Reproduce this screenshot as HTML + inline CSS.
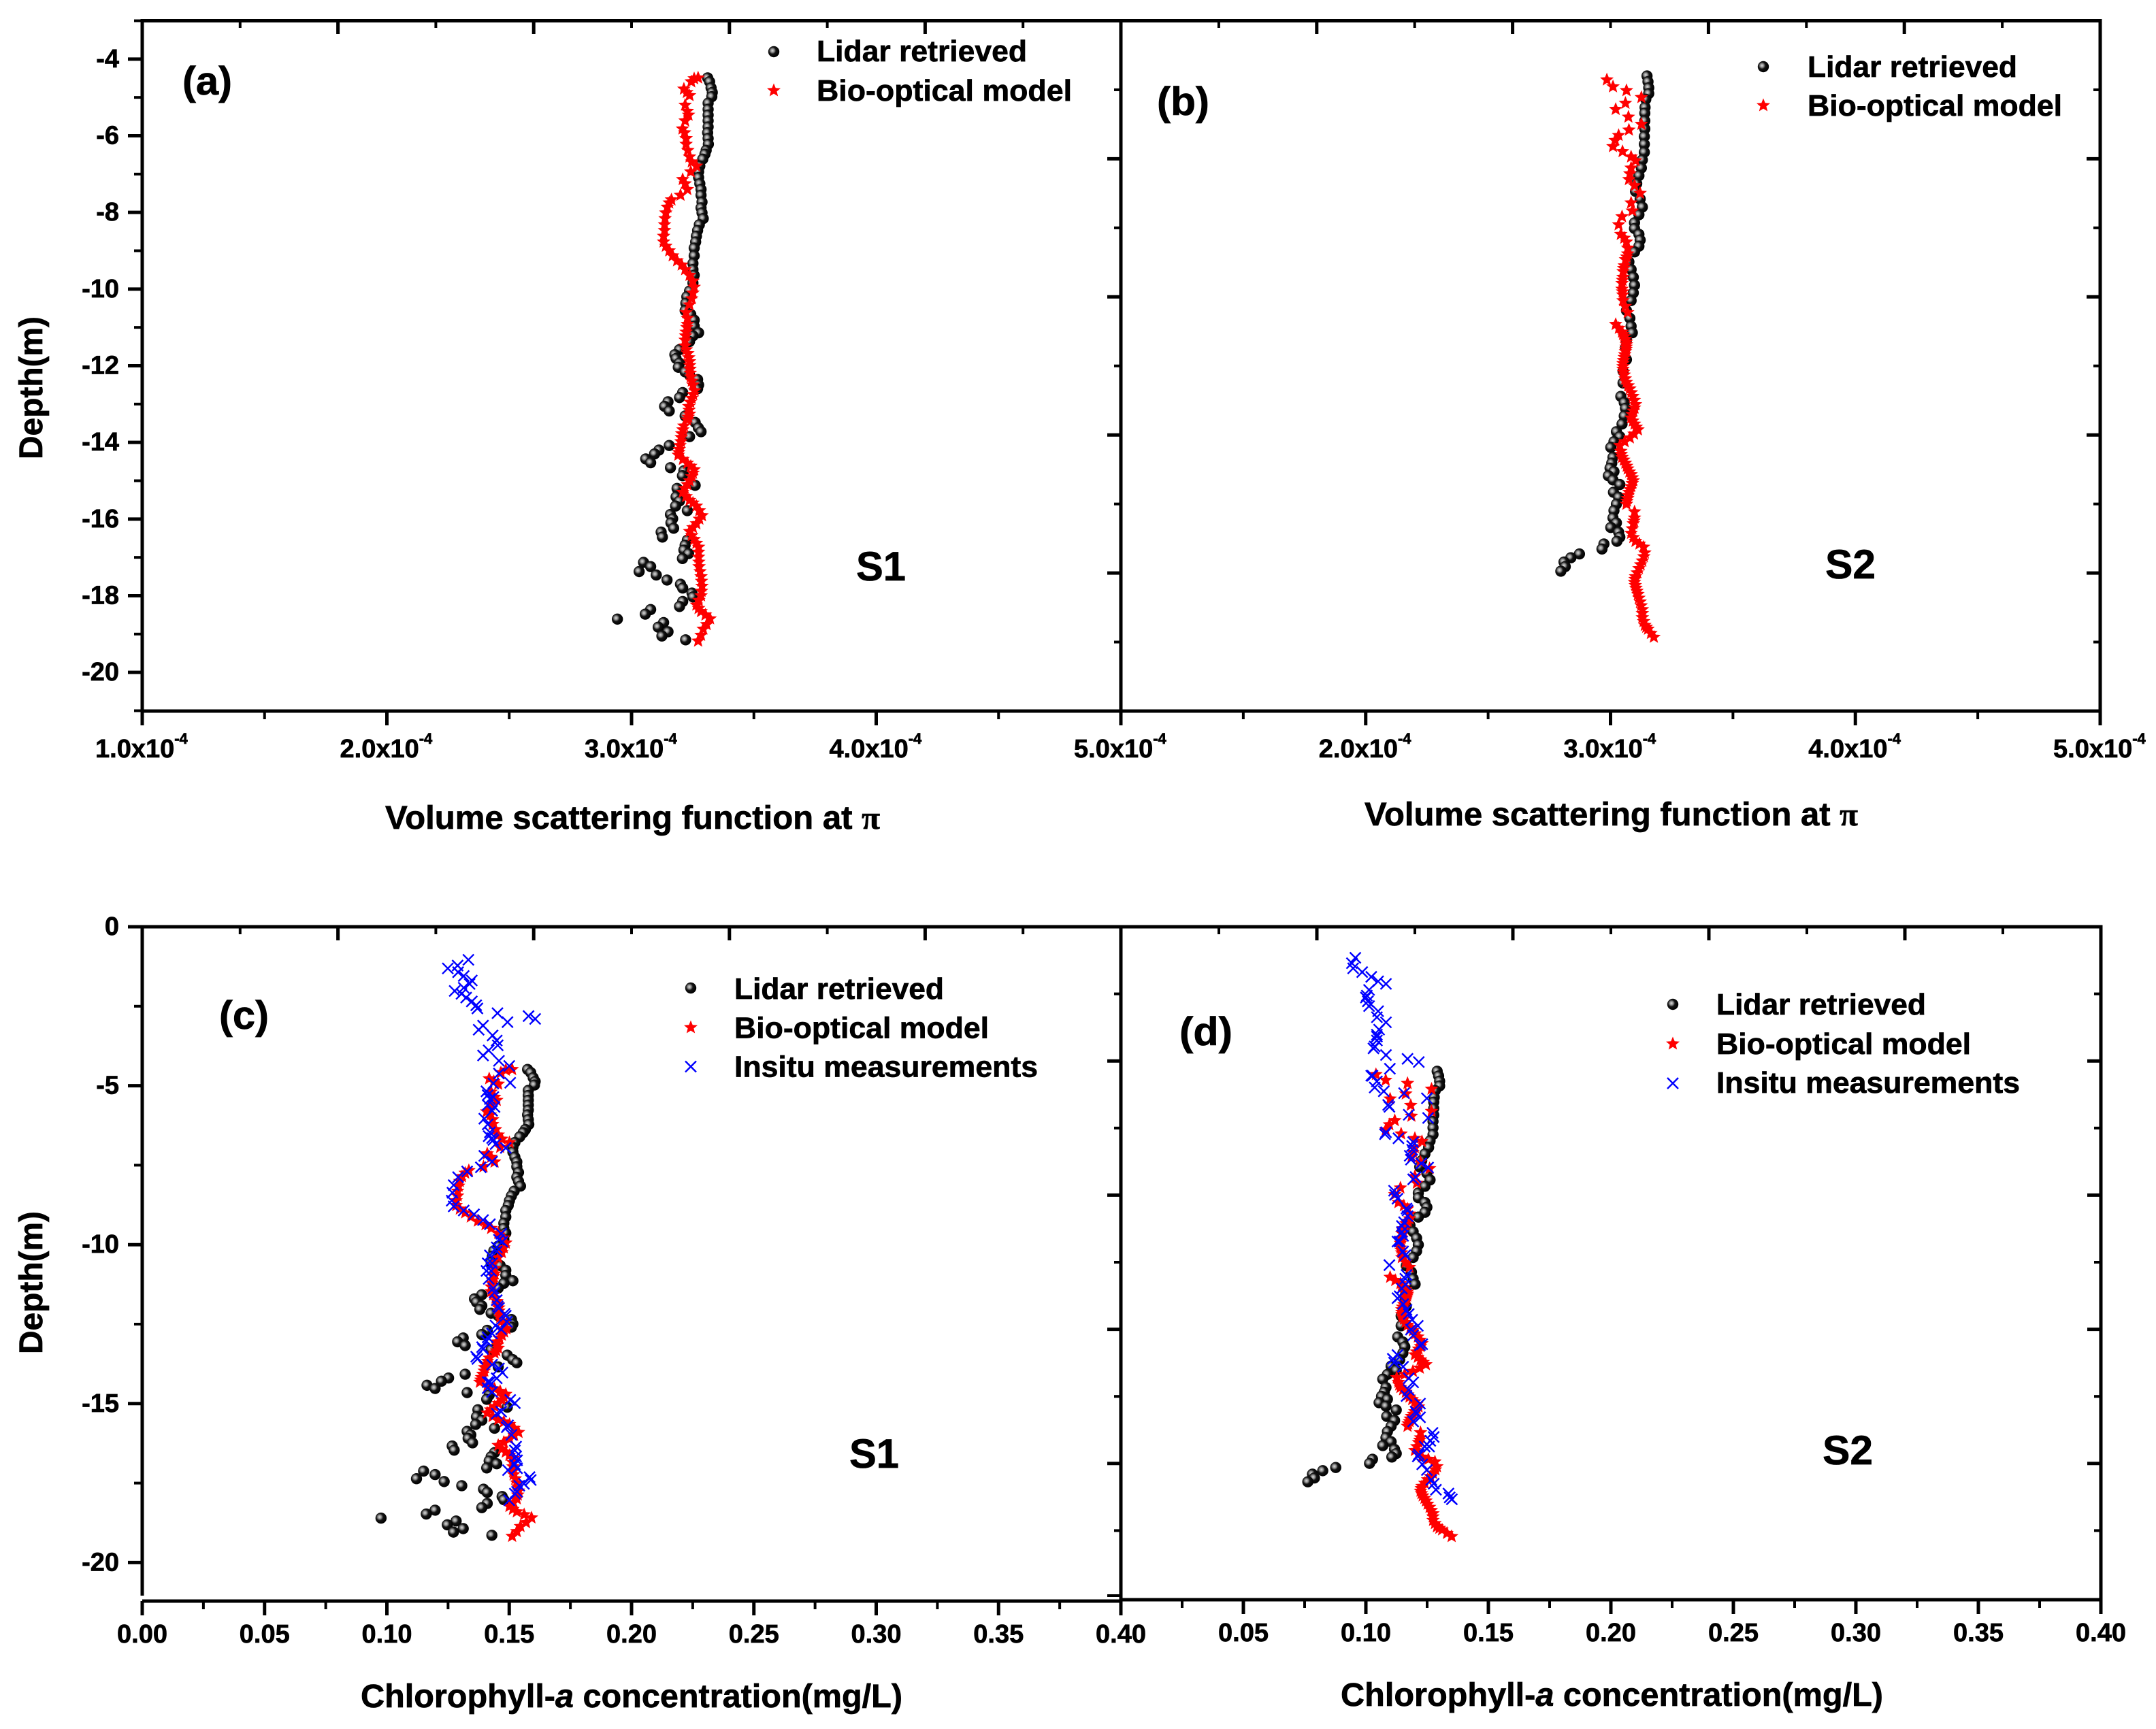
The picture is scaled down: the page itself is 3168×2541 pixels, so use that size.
<!DOCTYPE html>
<html lang="en">
<head>
<meta charset="utf-8">
<title>Lidar and bio-optical depth profiles</title>
<style>
html,body{margin:0;padding:0;background:#fff;}
svg{display:block;}
text{font-family:"Liberation Sans",Arial,sans-serif;font-weight:bold;fill:#000;stroke:#000;stroke-width:0.7px;}
</style>
</head>
<body>
<svg id="figure" xmlns="http://www.w3.org/2000/svg" width="3168" height="2541" viewBox="0 0 3168 2541">
<defs>
<radialGradient id="sphere" cx="0.38" cy="0.4" r="0.6">
<stop offset="0" stop-color="#dcdcdc"/>
<stop offset="0.28" stop-color="#8c8c8c"/>
<stop offset="0.52" stop-color="#141414"/>
<stop offset="1" stop-color="#000"/>
</radialGradient>
</defs>
<rect x="0" y="0" width="3168" height="2541" fill="#fff"/>
</svg>
<script>
/* ---------- tick values and labels ---------- */
const betaMajorTicks = [1, 2, 3, 4, 5];
const betaMinorTicks = [1.5, 2.5, 3.5, 4.5];
const betaTopTicksMajor = [1.8, 2.6, 3.4, 4.2];
const betaTopTicksMinor = [1.4, 2.2, 3.0, 3.8, 4.6];
const betaLabelsA = ['1.0x10', '2.0x10', '3.0x10', '4.0x10', '5.0x10'];
const depthTicksA = [-4, -6, -8, -10, -12, -14, -16, -18, -20];
const depthMinorA = [-3, -5, -7, -9, -11, -13, -15, -17, -19, -21];
const secondaryMajor = [-4, -8, -12, -16];
const secondaryMinor = [-2, -6, -10, -14, -18];
const chlMajorTicks = [0, 0.05, 0.1, 0.15, 0.2, 0.25, 0.3, 0.35, 0.4];
const chlMinorTicks = [0.025, 0.075, 0.125, 0.175, 0.225, 0.275, 0.325, 0.375];
const chlLabels = ['0.00', '0.05', '0.10', '0.15', '0.20', '0.25', '0.30', '0.35', '0.40'];
const chlTopMajor = [0.08, 0.16, 0.24, 0.32];
const chlTopMinor = [0.04, 0.12, 0.2, 0.28, 0.36];
const depthTicksC = [0, -5, -10, -15, -20];
const depthMinorC = [-2.5, -7.5, -12.5, -17.5];

/* ---------- S1 depths (m below surface) ---------- */
const lidarDepthS1 = [4.49,4.59,4.75,4.87,4.98,5.15,5.31,5.46,5.61,5.77,5.92,6.07,6.22,6.38,6.48,6.61,6.79,6.94,7.09,7.25,7.40,7.55,7.73,7.88,8.01,8.16,8.32,8.47,8.62,8.77,8.93,9.13,9.33,9.49,9.64,9.84,10.05,10.20,10.37,10.56,10.66,10.81,10.97,11.14,11.22,11.37,11.58,11.71,11.81,11.93,12.04,12.16,12.24,12.36,12.50,12.60,12.70,12.83,12.94,13.06,13.18,13.31,13.48,13.62,13.72,13.85,14.08,14.20,14.30,14.43,14.53,14.66,14.74,14.87,15.12,15.20,15.42,15.53,15.66,15.78,15.88,15.99,16.10,16.24,16.34,16.47,16.55,16.68,16.81,16.90,17.03,17.13,17.24,17.37,17.46,17.59,17.70,17.80,17.93,18.03,18.15,18.28,18.36,18.48,18.61,18.70,18.82,18.94,19.05,19.15];
const bioDepthS1 = [4.49,4.51,4.59,4.78,4.87,4.95,5.20,5.36,5.46,5.61,5.82,5.92,6.07,6.22,6.38,6.55,6.68,6.79,6.94,7.14,7.25,7.40,7.55,7.67,7.75,7.86,8.01,8.16,8.32,8.47,8.62,8.77,8.88,9.00,9.13,9.26,9.37,9.49,9.64,9.79,9.95,10.10,10.25,10.41,10.61,10.76,10.92,11.12,11.33,11.48,11.68,11.89,12.09,12.29,12.50,12.65,12.85,13.06,13.26,13.41,13.57,13.77,13.98,14.18,14.33,14.54,14.71,14.89,15.10,15.30,15.51,15.66,15.91,16.12,16.32,16.53,16.73,16.99,17.24,17.50,17.75,18.00,18.24,18.41,18.60,18.75,18.87,19.03,19.18,11.00,11.22,11.58,11.79,11.99,12.19,12.40,12.75,12.95,13.16,13.34,13.67,13.87,14.08,14.26,14.44,14.62,14.80,15.00,15.20,15.41,15.58,15.78,16.00,16.22,16.43,16.63,16.86,17.12,17.37,17.62,17.88,18.12,18.33,18.50];

/* ---------- panel (a): volume scattering, units of 1e-4 ---------- */
const lidarBetaS1 = [3.311,3.319,3.325,3.330,3.328,3.313,3.313,3.313,3.313,3.313,3.311,3.313,3.314,3.305,3.300,3.291,3.279,3.274,3.274,3.279,3.284,3.284,3.288,3.284,3.288,3.293,3.277,3.270,3.265,3.262,3.256,3.256,3.251,3.251,3.256,3.251,3.237,3.226,3.222,3.219,3.242,3.256,3.256,3.274,3.251,3.237,3.196,3.177,3.182,3.196,3.191,3.219,3.237,3.270,3.274,3.270,3.209,3.196,3.149,3.135,3.154,3.219,3.260,3.273,3.284,3.237,3.154,3.112,3.094,3.058,3.078,3.159,3.214,3.208,3.260,3.186,3.182,3.196,3.180,3.228,3.159,3.168,3.161,3.172,3.121,3.126,3.228,3.219,3.214,3.233,3.208,3.049,3.078,3.031,3.101,3.145,3.200,3.209,3.247,3.251,3.209,3.196,3.078,3.056,2.942,3.131,3.109,3.149,3.124,3.221];
const bioBetaS1 = [3.272,3.256,3.244,3.214,3.226,3.237,3.219,3.228,3.233,3.219,3.208,3.217,3.223,3.223,3.230,3.237,3.246,3.265,3.242,3.209,3.219,3.228,3.200,3.163,3.154,3.146,3.140,3.137,3.135,3.135,3.131,3.131,3.140,3.154,3.168,3.186,3.205,3.219,3.237,3.251,3.256,3.251,3.246,3.237,3.223,3.228,3.228,3.223,3.219,3.219,3.230,3.237,3.239,3.242,3.251,3.258,3.246,3.234,3.237,3.228,3.214,3.205,3.202,3.195,3.191,3.228,3.256,3.246,3.228,3.209,3.237,3.265,3.288,3.265,3.237,3.256,3.274,3.274,3.276,3.284,3.288,3.284,3.265,3.284,3.321,3.307,3.293,3.284,3.272,3.226,3.221,3.224,3.234,3.238,3.240,3.246,3.252,3.240,3.235,3.232,3.210,3.203,3.198,3.193,3.210,3.242,3.251,3.237,3.218,3.223,3.251,3.277,3.277,3.251,3.246,3.265,3.274,3.275,3.280,3.286,3.286,3.275,3.274,3.302];

/* ---------- panel (c): chlorophyll-a, mg/L ---------- */
const lidarChlS1 = [.1575,.1588,.1598,.1606,.1603,.1578,.1578,.1578,.1578,.1578,.1575,.1578,.1580,.1566,.1557,.1543,.1523,.1515,.1515,.1523,.1531,.1531,.1538,.1531,.1538,.1546,.1520,.1509,.1501,.1496,.1486,.1486,.1478,.1478,.1486,.1478,.1455,.1437,.1431,.1426,.1463,.1486,.1486,.1515,.1478,.1455,.1388,.1358,.1366,.1388,.1380,.1426,.1455,.1509,.1515,.1509,.1410,.1388,.1312,.1289,.1320,.1426,.1492,.1514,.1531,.1455,.1320,.1252,.1223,.1164,.1197,.1328,.1418,.1408,.1492,.1372,.1366,.1388,.1363,.1440,.1328,.1343,.1332,.1350,.1267,.1275,.1440,.1426,.1418,.1449,.1408,.1150,.1197,.1121,.1234,.1306,.1395,.1410,.1471,.1478,.1410,.1388,.1197,.1161,.0976,.1283,.1247,.1312,.1272,.1429];
const bioChlS1 = [.1512,.1486,.1466,.1418,.1437,.1455,.1426,.1440,.1449,.1426,.1408,.1423,.1432,.1432,.1444,.1455,.1470,.1501,.1463,.1410,.1426,.1440,.1395,.1335,.1320,.1307,.1298,.1293,.1289,.1289,.1283,.1283,.1298,.1320,.1343,.1372,.1403,.1426,.1455,.1478,.1486,.1478,.1470,.1455,.1432,.1440,.1440,.1432,.1426,.1426,.1444,.1455,.1458,.1463,.1478,.1489,.1470,.1450,.1455,.1440,.1418,.1403,.1398,.1387,.1380,.1440,.1486,.1470,.1440,.1410,.1455,.1501,.1538,.1501,.1455,.1486,.1515,.1515,.1518,.1531,.1538,.1531,.1501,.1531,.1591,.1569,.1546,.1531,.1512,.1437,.1429,.1434,.1450,.1457,.1460,.1470,.1479,.1460,.1452,.1447,.1411,.1400,.1392,.1384,.1411,.1463,.1478,.1455,.1424,.1432,.1478,.1520,.1520,.1478,.1470,.1501,.1515,.1517,.1525,.1535,.1535,.1517,.1515,.1561];
const insituDepthS1 = [1.04,1.22,1.31,1.43,1.55,1.69,1.80,1.92,2.02,2.11,2.23,2.35,2.47,2.57,2.72,2.81,2.90,3.00,3.11,3.24,3.42,3.58,3.73,3.89,4.05,4.22,4.38,4.62,4.91,4.93,5.18,5.36,5.61,5.79,6.04,6.22,6.47,6.65,6.84,6.96,7.21,7.39,7.57,7.70,7.88,8.13,8.37,8.62,8.80,8.93,9.05,9.23,9.36,9.66,9.91,10.09,10.34,10.59,10.83,11.08,11.38,11.75,12.00,12.24,12.55,12.80,13.04,13.29,13.60,13.78,14.03,14.21,14.33,14.52,14.99,15.32,15.69,15.99,16.36,16.67,16.92,17.10,17.32,17.59,17.84,18.05,5.30,5.42,5.67,6.59,6.71,9.85,10.22,10.59,10.83,11.51,11.94,12.18,12.43,12.67,12.92,13.23,13.53,13.90,14.33,14.64,14.89,15.26,15.75,16.48,16.79,17.04,17.41,17.53,17.78];
const insituChlS1 = [.1333,.1289,.1249,.1291,.1314,.1347,.1338,.1314,.1277,.1305,.1324,.1347,.1365,.1370,.1452,.1579,.1606,.1493,.1393,.1375,.1432,.1449,.1453,.1416,.1393,.1458,.1500,.1458,.1504,.1435,.1407,.1435,.1412,.1430,.1398,.1412,.1421,.1430,.1444,.1486,.1398,.1430,.1384,.1328,.1291,.1273,.1268,.1265,.1273,.1314,.1356,.1393,.1421,.1467,.1472,.1449,.1421,.1430,.1426,.1416,.1435,.1449,.1458,.1486,.1444,.1430,.1407,.1393,.1370,.1430,.1472,.1449,.1421,.1412,.1523,.1449,.1495,.1509,.1528,.1528,.1523,.1495,.1583,.1541,.1523,.1500,.1412,.1421,.1440,.1416,.1435,.1458,.1449,.1412,.1407,.1440,.1453,.1481,.1490,.1467,.1412,.1389,.1365,.1458,.1412,.1430,.1504,.1467,.1490,.1523,.1532,.1532,.1588,.1560,.1532];

/* ---------- S2 depths ---------- */
const lidarDepthS2 = [4.44,4.59,4.75,4.90,5.05,5.26,5.41,5.61,5.82,6.02,6.22,6.43,6.63,6.84,7.04,7.25,7.45,7.65,7.86,8.06,8.27,8.42,8.57,8.72,8.88,9.03,9.29,9.49,9.69,9.90,10.10,10.30,10.56,10.76,10.97,11.14,11.33,11.53,11.84,12.14,12.45,12.80,12.96,13.11,13.31,13.52,13.72,13.85,13.98,14.13,14.39,14.54,14.67,14.76,14.87,14.98,15.10,15.30,15.43,15.61,15.78,15.97,16.10,16.22,16.34,16.47,16.58,16.65,16.78,16.91,17.01,17.12,17.24,17.36];
const bioDepthS2 = [4.54,4.72,4.82,5.00,5.15,5.31,5.51,5.70,5.85,5.99,6.12,6.28,6.41,6.55,6.65,6.84,6.99,7.14,7.30,7.50,7.75,7.96,8.11,8.32,8.57,8.67,8.77,8.93,9.08,9.23,9.39,9.54,9.69,9.85,10.00,10.15,10.30,10.61,10.92,11.12,11.24,11.38,11.51,11.63,11.78,11.94,12.09,12.24,12.43,12.60,12.80,13.01,13.18,13.36,13.52,13.67,13.88,14.08,14.23,14.39,14.54,14.69,14.84,15.00,15.15,15.30,15.46,15.61,15.81,15.97,16.12,16.37,16.58,16.73,16.88,17.09,17.29,17.50,17.65,17.80,17.96,18.16,18.36,18.57,18.77,18.87,19.08,9.16,9.46,9.77,10.07,10.45,11.02,11.18,11.31,11.45,11.57,11.71,11.86,12.02,12.17,12.34,12.52,12.70,12.90,13.10,13.27,13.44,13.60,13.78,13.98,14.31,14.46,14.62,14.77,14.92,15.07,15.23,15.38,15.53,16.05,16.25,16.48,16.65,16.98,17.19,17.40,17.57,17.73,17.88,18.06,18.26,18.46,18.67,18.82,18.98];

/* ---------- panel (b) ---------- */
const lidarBetaS2 = [3.149,3.153,3.156,3.156,3.144,3.141,3.140,3.140,3.140,3.138,3.138,3.138,3.130,3.126,3.116,3.107,3.102,3.121,3.130,3.116,3.098,3.098,3.116,3.121,3.116,3.098,3.075,3.084,3.093,3.098,3.093,3.084,3.065,3.079,3.084,3.089,3.065,3.061,3.065,3.051,3.051,3.042,3.056,3.061,3.056,3.047,3.024,3.038,3.014,3.001,3.010,3.005,2.998,3.014,2.991,3.010,3.038,3.012,3.033,3.024,3.014,3.010,3.024,3.001,3.033,3.038,3.026,2.973,2.965,2.873,2.838,2.810,2.815,2.797];
const bioBetaS2 = [2.985,3.010,3.065,3.126,3.061,3.021,3.073,3.126,3.075,3.033,3.019,3.010,3.049,3.084,3.102,3.084,3.079,3.075,3.098,3.121,3.084,3.089,3.047,3.033,3.042,3.056,3.065,3.070,3.070,3.061,3.056,3.051,3.051,3.047,3.047,3.050,3.051,3.070,3.021,3.047,3.056,3.065,3.064,3.061,3.056,3.051,3.051,3.056,3.065,3.079,3.091,3.102,3.093,3.084,3.098,3.112,3.079,3.038,3.042,3.047,3.061,3.070,3.084,3.093,3.084,3.075,3.070,3.065,3.098,3.098,3.093,3.084,3.102,3.135,3.140,3.130,3.116,3.102,3.098,3.104,3.112,3.121,3.130,3.130,3.140,3.153,3.177,3.066,3.054,3.049,3.049,3.060,3.034,3.051,3.061,3.065,3.063,3.058,3.053,3.051,3.053,3.060,3.072,3.085,3.097,3.098,3.088,3.091,3.105,3.096,3.058,3.044,3.054,3.066,3.077,3.089,3.089,3.080,3.072,3.067,3.096,3.089,3.093,3.118,3.136,3.123,3.109,3.100,3.101,3.108,3.116,3.125,3.130,3.135,3.146,3.165];

/* ---------- panel (d) ---------- */
const lidarChlS2 = [.1291,.1297,.1301,.1301,.1283,.1279,.1277,.1277,.1277,.1274,.1274,.1274,.1262,.1256,.1241,.1228,.1220,.1249,.1262,.1241,.1214,.1214,.1241,.1249,.1241,.1214,.1180,.1193,.1207,.1214,.1207,.1193,.1165,.1186,.1193,.1201,.1165,.1159,.1165,.1144,.1144,.1130,.1151,.1159,.1151,.1138,.1103,.1124,.1088,.1069,.1082,.1075,.1064,.1088,.1054,.1082,.1124,.1085,.1117,.1103,.1088,.1082,.1103,.1069,.1117,.1124,.1106,.1027,.1015,.0877,.0824,.0782,.0790,.0763];
const bioChlS2 = [.1041,.1081,.1170,.1268,.1163,.1099,.1183,.1268,.1186,.1118,.1096,.1081,.1144,.1200,.1229,.1200,.1192,.1186,.1223,.1260,.1200,.1208,.1141,.1118,.1133,.1155,.1170,.1178,.1178,.1163,.1155,.1147,.1147,.1141,.1141,.1146,.1147,.1178,.1099,.1141,.1155,.1170,.1168,.1163,.1155,.1147,.1147,.1155,.1170,.1192,.1212,.1229,.1215,.1200,.1223,.1245,.1192,.1126,.1133,.1141,.1163,.1178,.1200,.1215,.1200,.1186,.1178,.1170,.1223,.1223,.1215,.1200,.1229,.1282,.1290,.1274,.1252,.1229,.1223,.1232,.1245,.1260,.1274,.1274,.1290,.1311,.1350,.1171,.1152,.1144,.1144,.1162,.1120,.1147,.1163,.1170,.1166,.1158,.1150,.1147,.1150,.1162,.1181,.1202,.1221,.1223,.1207,.1212,.1234,.1220,.1158,.1136,.1152,.1171,.1189,.1208,.1208,.1194,.1181,.1173,.1220,.1208,.1215,.1255,.1284,.1263,.1240,.1226,.1227,.1239,.1252,.1267,.1274,.1282,.1300,.1331];
const insituDepthS2 = [.87,1.04,1.20,1.32,1.47,1.61,1.69,1.88,2.06,2.24,2.39,2.55,2.74,2.90,3.13,3.29,3.47,3.72,3.93,4.05,4.15,4.36,4.58,4.76,4.95,5.07,5.13,5.29,5.56,5.81,5.91,6.36,6.55,6.67,6.91,7.22,7.34,7.47,7.84,8.20,8.45,8.82,9.19,9.50,9.80,10.11,10.54,10.85,11.15,11.52,11.77,12.08,12.45,12.75,13.03,13.37,13.61,14.10,14.47,14.90,15.21,15.46,15.82,16.07,16.25,16.50,16.99,17.42,17.85,17.91,2.12,3.35,3.66,4.58,5.50,6.42,6.79,7.10,7.77,8.33,8.76,9.00,9.31,9.62,9.80,10.23,10.97,11.28,11.58,11.95,12.26,12.57,13.06,13.49,13.74,14.23,14.66,15.15,15.33,15.95,16.25,16.56,16.81,17.30,17.61,17.73];
const insituChlS2 = [.0957,.0943,.0948,.0985,.1022,.1050,.1082,.1013,.1004,.1008,.1013,.1050,.1045,.1082,.1054,.1045,.1045,.1031,.1082,.1170,.1216,.1098,.1027,.1045,.1036,.1073,.1156,.1249,.1096,.1175,.1254,.1082,.1133,.1193,.1189,.1184,.1226,.1254,.1193,.1115,.1129,.1170,.1156,.1147,.1138,.1152,.1096,.1166,.1161,.1138,.1152,.1175,.1212,.1193,.1230,.1129,.1115,.1175,.1175,.1221,.1207,.1193,.1272,.1263,.1240,.1216,.1249,.1277,.1342,.1351,.1000,.1045,.1036,.1022,.1091,.1078,.1189,.1179,.1203,.1119,.1166,.1170,.1147,.1152,.1129,.1161,.1161,.1147,.1129,.1166,.1189,.1184,.1221,.1110,.1152,.1193,.1166,.1203,.1221,.1277,.1258,.1212,.1230,.1267,.1286,.1337];

/* ---------- scales ---------- */
function linear(d0, d1, r0, r1) {
  return function (v) { return r0 + (v - d0) / (d1 - d0) * (r1 - r0); };
}
const xBetaA = linear(1, 5, 209, 1647);
const xBetaB = linear(1, 5, 1647, 3086);
const xChlC = linear(0, 0.4, 209, 1647);
const xChlD = linear(0, 0.4, 1647, 3087);
const yDepthAB = linear(-3, -21, 30.5, 1044.5);
const yDepthC = linear(0, -21, 1362, 2342.7);
const yDepthD = linear(0, -21, 1367, 2347.7);
const yAxisA = linear(-3, -21, 30.5, 1044.5);
const yAxisB = linear(0, -20, 30.5, 1045);
const yAxisC = linear(0, -20, 1362, 2296.4);
const yAxisD = linear(0, -20, 1362, 2348);

/* ---------- drawing helpers ---------- */
const SVGNS = 'http://www.w3.org/2000/svg';
const root = document.getElementById('figure');

function make(tag, attrs, parent) {
  const node = document.createElementNS(SVGNS, tag);
  for (const k in attrs) node.setAttribute(k, attrs[k]);
  (parent || root).appendChild(node);
  return node;
}
function group(name) {
  const g = make('g', {});
  
  
  return g;
}
function rule(parent, name, x1, y1, x2, y2, w) {
  const el = make('line', { x1: x1, y1: y1, x2: x2, y2: y2, stroke: '#000', 'stroke-width': w }, parent);
  
  
  return el;
}
function label(parent, name, str, x, y, size, anchor, fitWidth) {
  const attrs = { x: x, y: y, 'font-size': size, 'text-anchor': anchor || 'start' };
  if (fitWidth) { attrs.textLength = fitWidth; attrs.lengthAdjust = 'spacingAndGlyphs'; }
  const el = make('text', attrs, parent);
  el.textContent = str;
  
  
  return el;
}
function sphere(parent, name, cx, cy) {
  const el = make('circle', { cx: cx, cy: cy, r: 8.2, fill: 'url(#sphere)' }, parent);
  
  
  return el;
}
function star(parent, name, cx, cy) {
  const pts = [];
  for (let i = 0; i < 10; i++) {
    const r = i % 2 === 0 ? 10.5 : 4.6;
    const a = -Math.PI / 2 + i * Math.PI / 5;
    pts.push((cx + r * Math.cos(a)).toFixed(1) + ',' + (cy + r * Math.sin(a)).toFixed(1));
  }
  const el = make('polygon', { points: pts.join(' '), fill: '#ff0000' }, parent);
  
  
  return el;
}
function cross(parent, name, cx, cy) {
  const s = 8;
  const d = 'M' + (cx - s) + ' ' + (cy - s) + 'L' + (cx + s) + ' ' + (cy + s) + 'M' + (cx - s) + ' ' + (cy + s) + 'L' + (cx + s) + ' ' + (cy - s);
  const el = make('path', { d: d, stroke: '#0000ff', 'stroke-width': 2.4, fill: 'none' }, parent);
  
  
  return el;
}
function series(panelGroup, groupName, depths, values, xs, ys, draw, pointName) {
  const g = make('g', {}, panelGroup);
  
  
  const n = Math.min(depths.length, values.length);
  for (let i = 0; i < n; i++) draw(g, pointName, xs(values[i]), ys(-depths[i]));
}
function exponentTick(parent, name, base, x, y) {
  const el = make('text', { x: x - 69, y: y, 'font-size': 38 }, parent);
  
  
  el.appendChild(document.createTextNode(base));
  const sup = make('tspan', { 'font-size': 22, dy: -20 }, el);
  sup.textContent = '-4';
}

/* ---------- panels ---------- */
function frame(g, left, right, top, bottom) {
  rule(g, 'frame-top', left - 2, top, right + 2.5, top, 5);
  rule(g, 'frame-bottom', left, bottom, right + 2.5, bottom, 5);
  rule(g, 'frame-right', right, top, right, bottom, 5);
}

/* Panel (a) */
const gA = group('panel-a');
frame(gA, 209, 1647, 30.5, 1045);
rule(gA, 'y-axis-line', 209, 28, 209, 1047, 5);
rule(gA, 'y-end-tick-top', 197, 30.5, 209, 30.5, 4);
depthTicksA.forEach(function (t) {
  rule(gA, 'y-major-tick', 188, yAxisA(t), 209, yAxisA(t), 5);
  label(gA, 'y-tick-label', String(t), 175, yAxisA(t) + 12, 38, 'end');
});
depthMinorA.forEach(function (t) { rule(gA, 'y-minor-tick', 197, yAxisA(t), 209, yAxisA(t), 4); });
betaMajorTicks.forEach(function (t, i) {
  rule(gA, 'x-major-tick', xBetaA(t), 1045, xBetaA(t), 1066, 5);
  exponentTick(gA, 'x-tick-label', betaLabelsA[i], xBetaA(t), 1113);
});
betaMinorTicks.forEach(function (t) { rule(gA, 'x-minor-tick', xBetaA(t), 1045, xBetaA(t), 1057, 4); });
betaTopTicksMajor.forEach(function (t) { rule(gA, 'top-major-tick', xBetaA(t), 30.5, xBetaA(t), 50, 5); });
betaTopTicksMinor.forEach(function (t) { rule(gA, 'top-minor-tick', xBetaA(t), 30.5, xBetaA(t), 41, 4); });
series(gA, 'lidar-series-a', lidarDepthS1, lidarBetaS1, xBetaA, yDepthAB, sphere, 'lidar-point');
series(gA, 'bio-optical-series-a', bioDepthS1, bioBetaS1, xBetaA, yDepthAB, star, 'bio-optical-point');
label(gA, 'panel-label-a', '(a)', 268, 139, 58, 'start', 73);
label(gA, 'station-label-s1', 'S1', 1258, 853, 60, 'start', 73);
sphere(gA, 'legend-lidar-marker', 1137, 76);
star(gA, 'legend-bio-optical-marker', 1137, 133);
label(gA, 'legend-lidar-label', 'Lidar retrieved', 1200, 90, 44, 'start', 309);
label(gA, 'legend-bio-optical-label', 'Bio-optical model', 1200, 148, 44, 'start', 375);
label(gA, 'x-axis-title', '', 566, 1218, 48, 'start', 727).id = 'titleA';

/* Panel (b) */
const gB = group('panel-b');
frame(gB, 1647, 3086, 30.5, 1045);
rule(gB, 'y-axis-line', 1647, 28, 1647, 1047, 5);
secondaryMajor.forEach(function (t) {
  rule(gB, 'left-major-tick', 1627, yAxisB(t), 1647, yAxisB(t), 5);
  rule(gB, 'right-major-tick', 3066, yAxisB(t), 3086, yAxisB(t), 5);
});
secondaryMinor.forEach(function (t) {
  rule(gB, 'left-minor-tick', 1637, yAxisB(t), 1647, yAxisB(t), 4);
  rule(gB, 'right-minor-tick', 3076, yAxisB(t), 3086, yAxisB(t), 4);
});
betaMajorTicks.forEach(function (t, i) {
  rule(gB, 'x-major-tick', xBetaB(t), 1045, xBetaB(t), 1066, 5);
  if (i > 0) exponentTick(gB, 'x-tick-label', betaLabelsA[i], xBetaB(t), 1113);
});
betaMinorTicks.forEach(function (t) { rule(gB, 'x-minor-tick', xBetaB(t), 1045, xBetaB(t), 1057, 4); });
betaTopTicksMajor.forEach(function (t) { rule(gB, 'top-major-tick', xBetaB(t), 30.5, xBetaB(t), 50, 5); });
betaTopTicksMinor.forEach(function (t) { rule(gB, 'top-minor-tick', xBetaB(t), 30.5, xBetaB(t), 41, 4); });
series(gB, 'lidar-series-b', lidarDepthS2, lidarBetaS2, xBetaB, yDepthAB, sphere, 'lidar-point');
series(gB, 'bio-optical-series-b', bioDepthS2, bioBetaS2, xBetaB, yDepthAB, star, 'bio-optical-point');
label(gB, 'panel-label-b', '(b)', 1700, 169, 58, 'start', 77);
label(gB, 'station-label-s2', 'S2', 2682, 850, 60, 'start', 74);
sphere(gB, 'legend-lidar-marker', 2591, 98);
star(gB, 'legend-bio-optical-marker', 2591, 155);
label(gB, 'legend-lidar-label', 'Lidar retrieved', 2656, 113, 44, 'start', 308);
label(gB, 'legend-bio-optical-label', 'Bio-optical model', 2656, 170, 44, 'start', 374);
label(gB, 'x-axis-title', '', 2005, 1213, 48, 'start', 725).id = 'titleB';

/* Panel (c) */
const gC = group('panel-c');
rule(gC, 'frame-top', 207, 1362, 1647, 1362, 5);
rule(gC, 'frame-bottom', 209, 2353, 1647, 2353, 5);
rule(gC, 'y-axis-line', 209, 1360, 209, 2345, 5);
depthTicksC.forEach(function (t) {
  rule(gC, 'y-major-tick', 188, yAxisC(t), 209, yAxisC(t), 5);
  label(gC, 'y-tick-label', String(t), 175, yAxisC(t) + 12, 38, 'end');
});
depthMinorC.forEach(function (t) { rule(gC, 'y-minor-tick', 197, yAxisC(t), 209, yAxisC(t), 4); });
chlMajorTicks.forEach(function (t, i) {
  rule(gC, 'x-major-tick', xChlC(t), 2353, xChlC(t), 2374, 5);
  label(gC, 'x-tick-label', chlLabels[i], xChlC(t), 2414, 38, 'middle');
});
chlMinorTicks.forEach(function (t) { rule(gC, 'x-minor-tick', xChlC(t), 2353, xChlC(t), 2365, 4); });
chlTopMajor.forEach(function (t) { rule(gC, 'top-major-tick', xChlC(t), 1362, xChlC(t), 1382, 5); });
chlTopMinor.forEach(function (t) { rule(gC, 'top-minor-tick', xChlC(t), 1362, xChlC(t), 1373, 4); });
series(gC, 'lidar-series-c', lidarDepthS1, lidarChlS1, xChlC, yDepthC, sphere, 'lidar-point');
series(gC, 'bio-optical-series-c', bioDepthS1, bioChlS1, xChlC, yDepthC, star, 'bio-optical-point');
series(gC, 'insitu-series-c', insituDepthS1, insituChlS1, xChlC, yDepthC, cross, 'insitu-point');
label(gC, 'panel-label-c', '(c)', 322, 1512, 58, 'start', 73);
label(gC, 'station-label-s1', 'S1', 1248, 2157, 60, 'start', 73);
sphere(gC, 'legend-lidar-marker', 1015, 1452);
star(gC, 'legend-bio-optical-marker', 1015, 1510);
cross(gC, 'legend-insitu-marker', 1015, 1567.5);
label(gC, 'legend-lidar-label', 'Lidar retrieved', 1079, 1468, 44, 'start', 308);
label(gC, 'legend-bio-optical-label', 'Bio-optical model', 1079, 1525.5, 44, 'start', 374);
label(gC, 'legend-insitu-label', 'Insitu measurements', 1079, 1582.5, 44, 'start', 446);
label(gC, 'x-axis-title', '', 530, 2509, 48, 'start', 796).id = 'titleC';

/* Panel (d) */
const gD = group('panel-d');
rule(gD, 'frame-top', 1647, 1362, 3089.5, 1362, 5);
rule(gD, 'frame-bottom', 1647, 2351, 3089.5, 2351, 5);
rule(gD, 'frame-right', 3087, 1362, 3087, 2351, 5);
rule(gD, 'y-axis-line', 1647, 1360, 1647, 2353, 5);
secondaryMajor.forEach(function (t) {
  rule(gD, 'left-major-tick', 1627, yAxisD(t), 1647, yAxisD(t), 5);
  rule(gD, 'right-major-tick', 3067, yAxisD(t), 3087, yAxisD(t), 5);
});
secondaryMinor.forEach(function (t) {
  rule(gD, 'left-minor-tick', 1637, yAxisD(t), 1647, yAxisD(t), 4);
  rule(gD, 'right-minor-tick', 3077, yAxisD(t), 3087, yAxisD(t), 4);
});
rule(gD, 'left-end-tick', 1627, yAxisD(-20) - 3, 1647, yAxisD(-20) - 3, 4);
chlMajorTicks.forEach(function (t, i) {
  rule(gD, 'x-major-tick', xChlD(t), 2351, xChlD(t), 2372, 5);
  if (i > 0) label(gD, 'x-tick-label', chlLabels[i], xChlD(t), 2412, 38, 'middle');
});
chlMinorTicks.forEach(function (t) { rule(gD, 'x-minor-tick', xChlD(t), 2351, xChlD(t), 2363, 4); });
chlTopMajor.forEach(function (t) { rule(gD, 'top-major-tick', xChlD(t), 1362, xChlD(t), 1382, 5); });
chlTopMinor.forEach(function (t) { rule(gD, 'top-minor-tick', xChlD(t), 1362, xChlD(t), 1373, 4); });
series(gD, 'lidar-series-d', lidarDepthS2, lidarChlS2, xChlD, yDepthD, sphere, 'lidar-point');
series(gD, 'bio-optical-series-d', bioDepthS2, bioChlS2, xChlD, yDepthD, star, 'bio-optical-point');
series(gD, 'insitu-series-d', insituDepthS2, insituChlS2, xChlD, yDepthD, cross, 'insitu-point');
label(gD, 'panel-label-d', '(d)', 1733, 1536, 58, 'start', 78);
label(gD, 'station-label-s2', 'S2', 2678, 2152, 60, 'start', 74);
sphere(gD, 'legend-lidar-marker', 2458, 1476);
star(gD, 'legend-bio-optical-marker', 2458, 1534);
cross(gD, 'legend-insitu-marker', 2458, 1592);
label(gD, 'legend-lidar-label', 'Lidar retrieved', 2522, 1491, 44, 'start', 308);
label(gD, 'legend-bio-optical-label', 'Bio-optical model', 2522, 1549, 44, 'start', 374);
label(gD, 'legend-insitu-label', 'Insitu measurements', 2522, 1606, 44, 'start', 446);
label(gD, 'x-axis-title', '', 1970, 2507, 48, 'start', 797).id = 'titleD';

/* Axis titles with styled runs */
['titleA', 'titleB'].forEach(function (id) {
  const t = document.getElementById(id);
  t.appendChild(document.createTextNode('Volume scattering function at '));
  const pi = make('tspan', { style: 'font-family:"Liberation Serif",serif' }, t);
  pi.textContent = '\u03C0';
});
['titleC', 'titleD'].forEach(function (id) {
  const t = document.getElementById(id);
  t.appendChild(document.createTextNode('Chlorophyll-'));
  const a = make('tspan', { 'font-style': 'italic' }, t);
  a.textContent = 'a';
  t.appendChild(document.createTextNode(' concentration(mg/L)'));
});

/* Depth axis titles */
const depthTitleA = label(gA, 'y-axis-title', 'Depth(m)', 0, 0, 48, 'middle', 210);
depthTitleA.setAttribute('transform', 'translate(62 570) rotate(-90)');
const depthTitleC = label(gC, 'y-axis-title', 'Depth(m)', 0, 0, 48, 'middle', 210);
depthTitleC.setAttribute('transform', 'translate(62 1885) rotate(-90)');
</script>
</body>
</html>
